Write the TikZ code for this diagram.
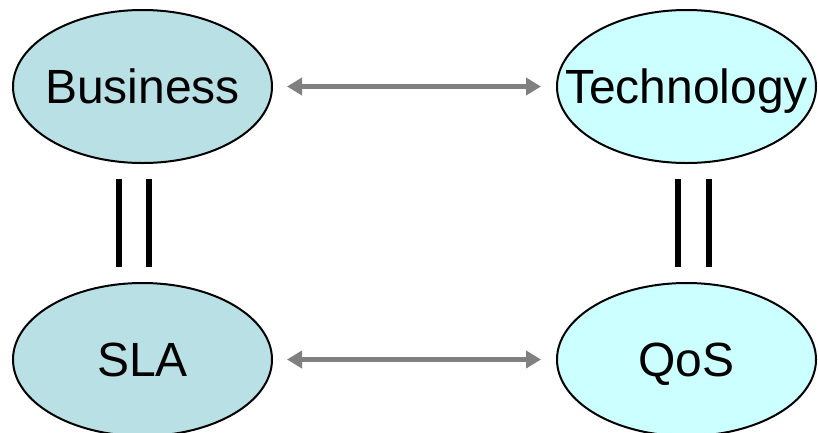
\documentclass[tikz,border=0pt]{standalone}
\usepackage{fontspec}
\setmainfont{Liberation Sans}
\usetikzlibrary{shapes.geometric,arrows.meta,calc}
\definecolor{bizfill}{RGB}{185,224,228}
\definecolor{techfill}{RGB}{204,255,255}
\definecolor{arrgray}{RGB}{128,128,128}
\tikzset{
  ell/.style={ellipse, draw=black, line width=2pt, inner sep=0pt,
    minimum width=259pt, minimum height=153pt,
    font=\fontsize{48pt}{52pt}\selectfont, text height=33pt, text depth=0pt},
  biz/.style={ell, fill=bizfill},
  tech/.style={ell, fill=techfill},
  garrow/.style={draw=arrgray, line width=5pt,
    {Triangle[length=15pt,width=17pt]}-{Triangle[length=15pt,width=17pt]},
    shorten <=14pt, shorten >=15pt},
  bar/.style={draw=black, line width=6pt}
}
\begin{document}
\begin{tikzpicture}[x=1pt,y=-1pt]
\useasboundingbox (0,0) rectangle (818,432);
\node[biz] (bus) at (142.5,86.5) {\makebox[0pt]{Business}};
\node[tech] (tec) at (686.5,86.5) {\makebox[0pt]{Technology}};
\node[biz] (sla) at (142.5,359.5) {\makebox[0pt]{SLA}};
\node[tech] (qos) at (686.5,359.5) {\makebox[0pt]{QoS}};
\draw[garrow] (bus.east) -- (tec.west);
\draw[garrow] (sla.east) -- (qos.west);
\draw[bar] ($(bus.south)+(-23.5,15)$) -- ($(sla.north)+(-23.5,-15)$);
\draw[bar] ($(bus.south)+(6.5,15)$) -- ($(sla.north)+(6.5,-15)$);
\draw[bar] ($(tec.south)+(-8.5,15)$) -- ($(qos.north)+(-8.5,-15)$);
\draw[bar] ($(tec.south)+(22.5,15)$) -- ($(qos.north)+(22.5,-15)$);
\end{tikzpicture}
\end{document}
